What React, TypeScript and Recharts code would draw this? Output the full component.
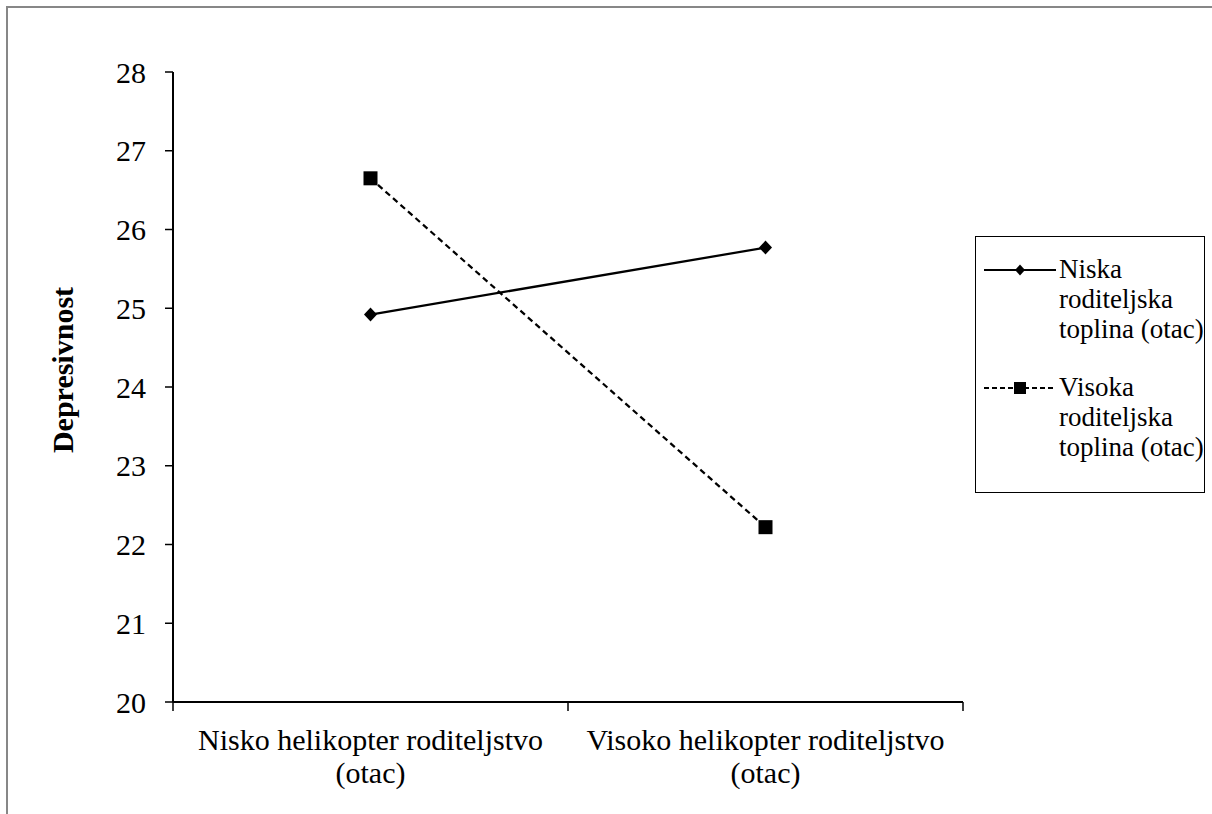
import React from 'react';
import { LineChart, Line, XAxis, YAxis, Legend } from 'recharts';

const categories = [
  'Nisko helikopter roditeljstvo (otac)',
  'Visoko helikopter roditeljstvo (otac)',
];
const niskaToplina = [24.92, 25.77];
const visokaToplina = [26.65, 22.22];
const yTicks = [20, 21, 22, 23, 24, 25, 26, 27, 28];
const seriesNames = [
  'Niska roditeljska toplina (otac)',
  'Visoka roditeljska toplina (otac)',
];

const data = categories.map((cat, i) => ({
  cat,
  niska: niskaToplina[i],
  visoka: visokaToplina[i],
}));

const FONT = "'Liberation Serif', 'DejaVu Serif', serif";
const GRAY = '#878787';

// custom markers; "size" instead of "r" because Line overrides r on the dot
function Diamond(props: any) {
  const { cx, cy, size = 7 } = props;
  if (cx == null || cy == null) return null;
  return (
    <path
      d={`M${cx},${cy - size}L${cx + size - 0.5},${cy}L${cx},${cy + size}L${cx - size + 0.5},${cy}Z`}
      fill="#000"
    />
  );
}

function Square(props: any) {
  const { cx, cy, size = 7 } = props;
  if (cx == null || cy == null) return null;
  return <rect x={cx - size} y={cy - size} width={size * 2} height={size * 2} fill="#000" />;
}

function CategoryTick(props: any) {
  const { x, y, payload, index } = props;
  const half = payload.offset || 197.5;
  const label = String(payload.value);
  const cut = label.lastIndexOf(' (');
  const line1 = label.slice(0, cut);
  const line2 = label.slice(cut + 1);
  const isLast = index === categories.length - 1;
  return (
    <g>
      <line x1={x - half} y1={y} x2={x - half} y2={y + 9} stroke="#000" strokeWidth={1.5} />
      {isLast && (
        <line x1={x + half} y1={y} x2={x + half} y2={y + 9} stroke="#000" strokeWidth={1.5} />
      )}
      <text x={x} y={y + 48} textAnchor="middle" fill="#000" fontSize={30} fontFamily={FONT}>
        {line1}
      </text>
      <text x={x} y={y + 81} textAnchor="middle" fill="#000" fontSize={30} fontFamily={FONT}>
        {line2}
      </text>
    </g>
  );
}

function YLabel(props: any) {
  const { viewBox } = props;
  const cx = viewBox.x - 20;
  const cy = viewBox.y + viewBox.height / 2 - 17;
  return (
    <text
      transform={`translate(${cx}, ${cy}) rotate(-90)`}
      textAnchor="middle"
      fill="#000"
      fontSize={30}
      fontWeight="bold"
      fontFamily={FONT}
    >
      Depresivnost
    </text>
  );
}

function LegendBox() {
  return (
    <div
      style={{
        width: 230,
        height: 257,
        boxSizing: 'border-box',
        border: '1.5px solid #000',
        background: '#fff',
        padding: '17px 0 0 7px',
        fontFamily: FONT,
        fontSize: 27,
        lineHeight: '30px',
        color: '#000',
      }}
    >
      {seriesNames.map((name, i) => (
        <div
          key={name}
          style={{ display: 'flex', alignItems: 'flex-start', marginBottom: i === 0 ? 28 : 0 }}
        >
          <svg width={74} height={30} style={{ flex: 'none' }}>
            <line
              x1={1}
              y1={16}
              x2={73}
              y2={16}
              stroke="#000"
              strokeWidth={2}
              strokeDasharray={i === 0 ? undefined : '5 3'}
            />
            {i === 0 ? <Diamond cx={37} cy={16} size={5.5} /> : <Square cx={37} cy={16} size={6} />}
          </svg>
          <div style={{ width: 150, marginLeft: 2 }}>{name}</div>
        </div>
      ))}
    </div>
  );
}

export default function App() {
  return (
    <div
      style={{
        position: 'absolute',
        left: 0,
        top: 0,
        width: 1212,
        height: 814,
        overflow: 'hidden',
        background: '#fff',
      }}
    >
      <div
        style={{
          position: 'absolute',
          left: 6,
          top: 6,
          width: 1300,
          height: 900,
          borderLeft: `2px solid ${GRAY}`,
          borderTop: `2px solid ${GRAY}`,
        }}
      />
      <div style={{ position: 'absolute', left: 0, top: 0 }}>
        <LineChart
          width={1212}
          height={814}
          data={data}
          margin={{ top: 72, right: 249, left: 93, bottom: 32 }}
        >
          <XAxis
            dataKey="cat"
            scale="band"
            height={80}
            axisLine={{ stroke: '#000', strokeWidth: 2 }}
            tickLine={false}
            tickSize={0}
            tickMargin={0}
            interval={0}
            tick={<CategoryTick />}
          />
          <XAxis
            xAxisId="top"
            dataKey="cat"
            orientation="top"
            height={0}
            axisLine={{ stroke: GRAY, strokeWidth: 2 }}
            tick={false}
            tickLine={false}
          />
          <YAxis
            domain={[20, 28]}
            ticks={yTicks}
            width={80}
            axisLine={{ stroke: '#000', strokeWidth: 2 }}
            tickLine={{ stroke: '#000', strokeWidth: 1.5 }}
            tickSize={8}
            tickMargin={19}
            tick={{ fill: '#000', fontSize: 30, fontFamily: FONT }}
            label={<YLabel />}
          />
          <YAxis
            yAxisId="right"
            orientation="right"
            domain={[20, 28]}
            width={0}
            axisLine={{ stroke: GRAY, strokeWidth: 2 }}
            tick={false}
            tickLine={false}
          />
          <Legend
            layout="vertical"
            align="center"
            verticalAlign="middle"
            content={() => <LegendBox />}
            wrapperStyle={{ position: 'absolute', left: 975, top: 236, width: 230, height: 257 }}
          />
          <Line
            type="linear"
            dataKey="niska"
            name={seriesNames[0]}
            stroke="#000"
            strokeWidth={2.25}
            dot={<Diamond size={7} />}
            activeDot={false}
            isAnimationActive={false}
          />
          <Line
            type="linear"
            dataKey="visoka"
            name={seriesNames[1]}
            stroke="#000"
            strokeWidth={2.25}
            strokeDasharray="6 4"
            dot={<Square size={7} />}
            activeDot={false}
            isAnimationActive={false}
          />
        </LineChart>
      </div>
    </div>
  );
}
